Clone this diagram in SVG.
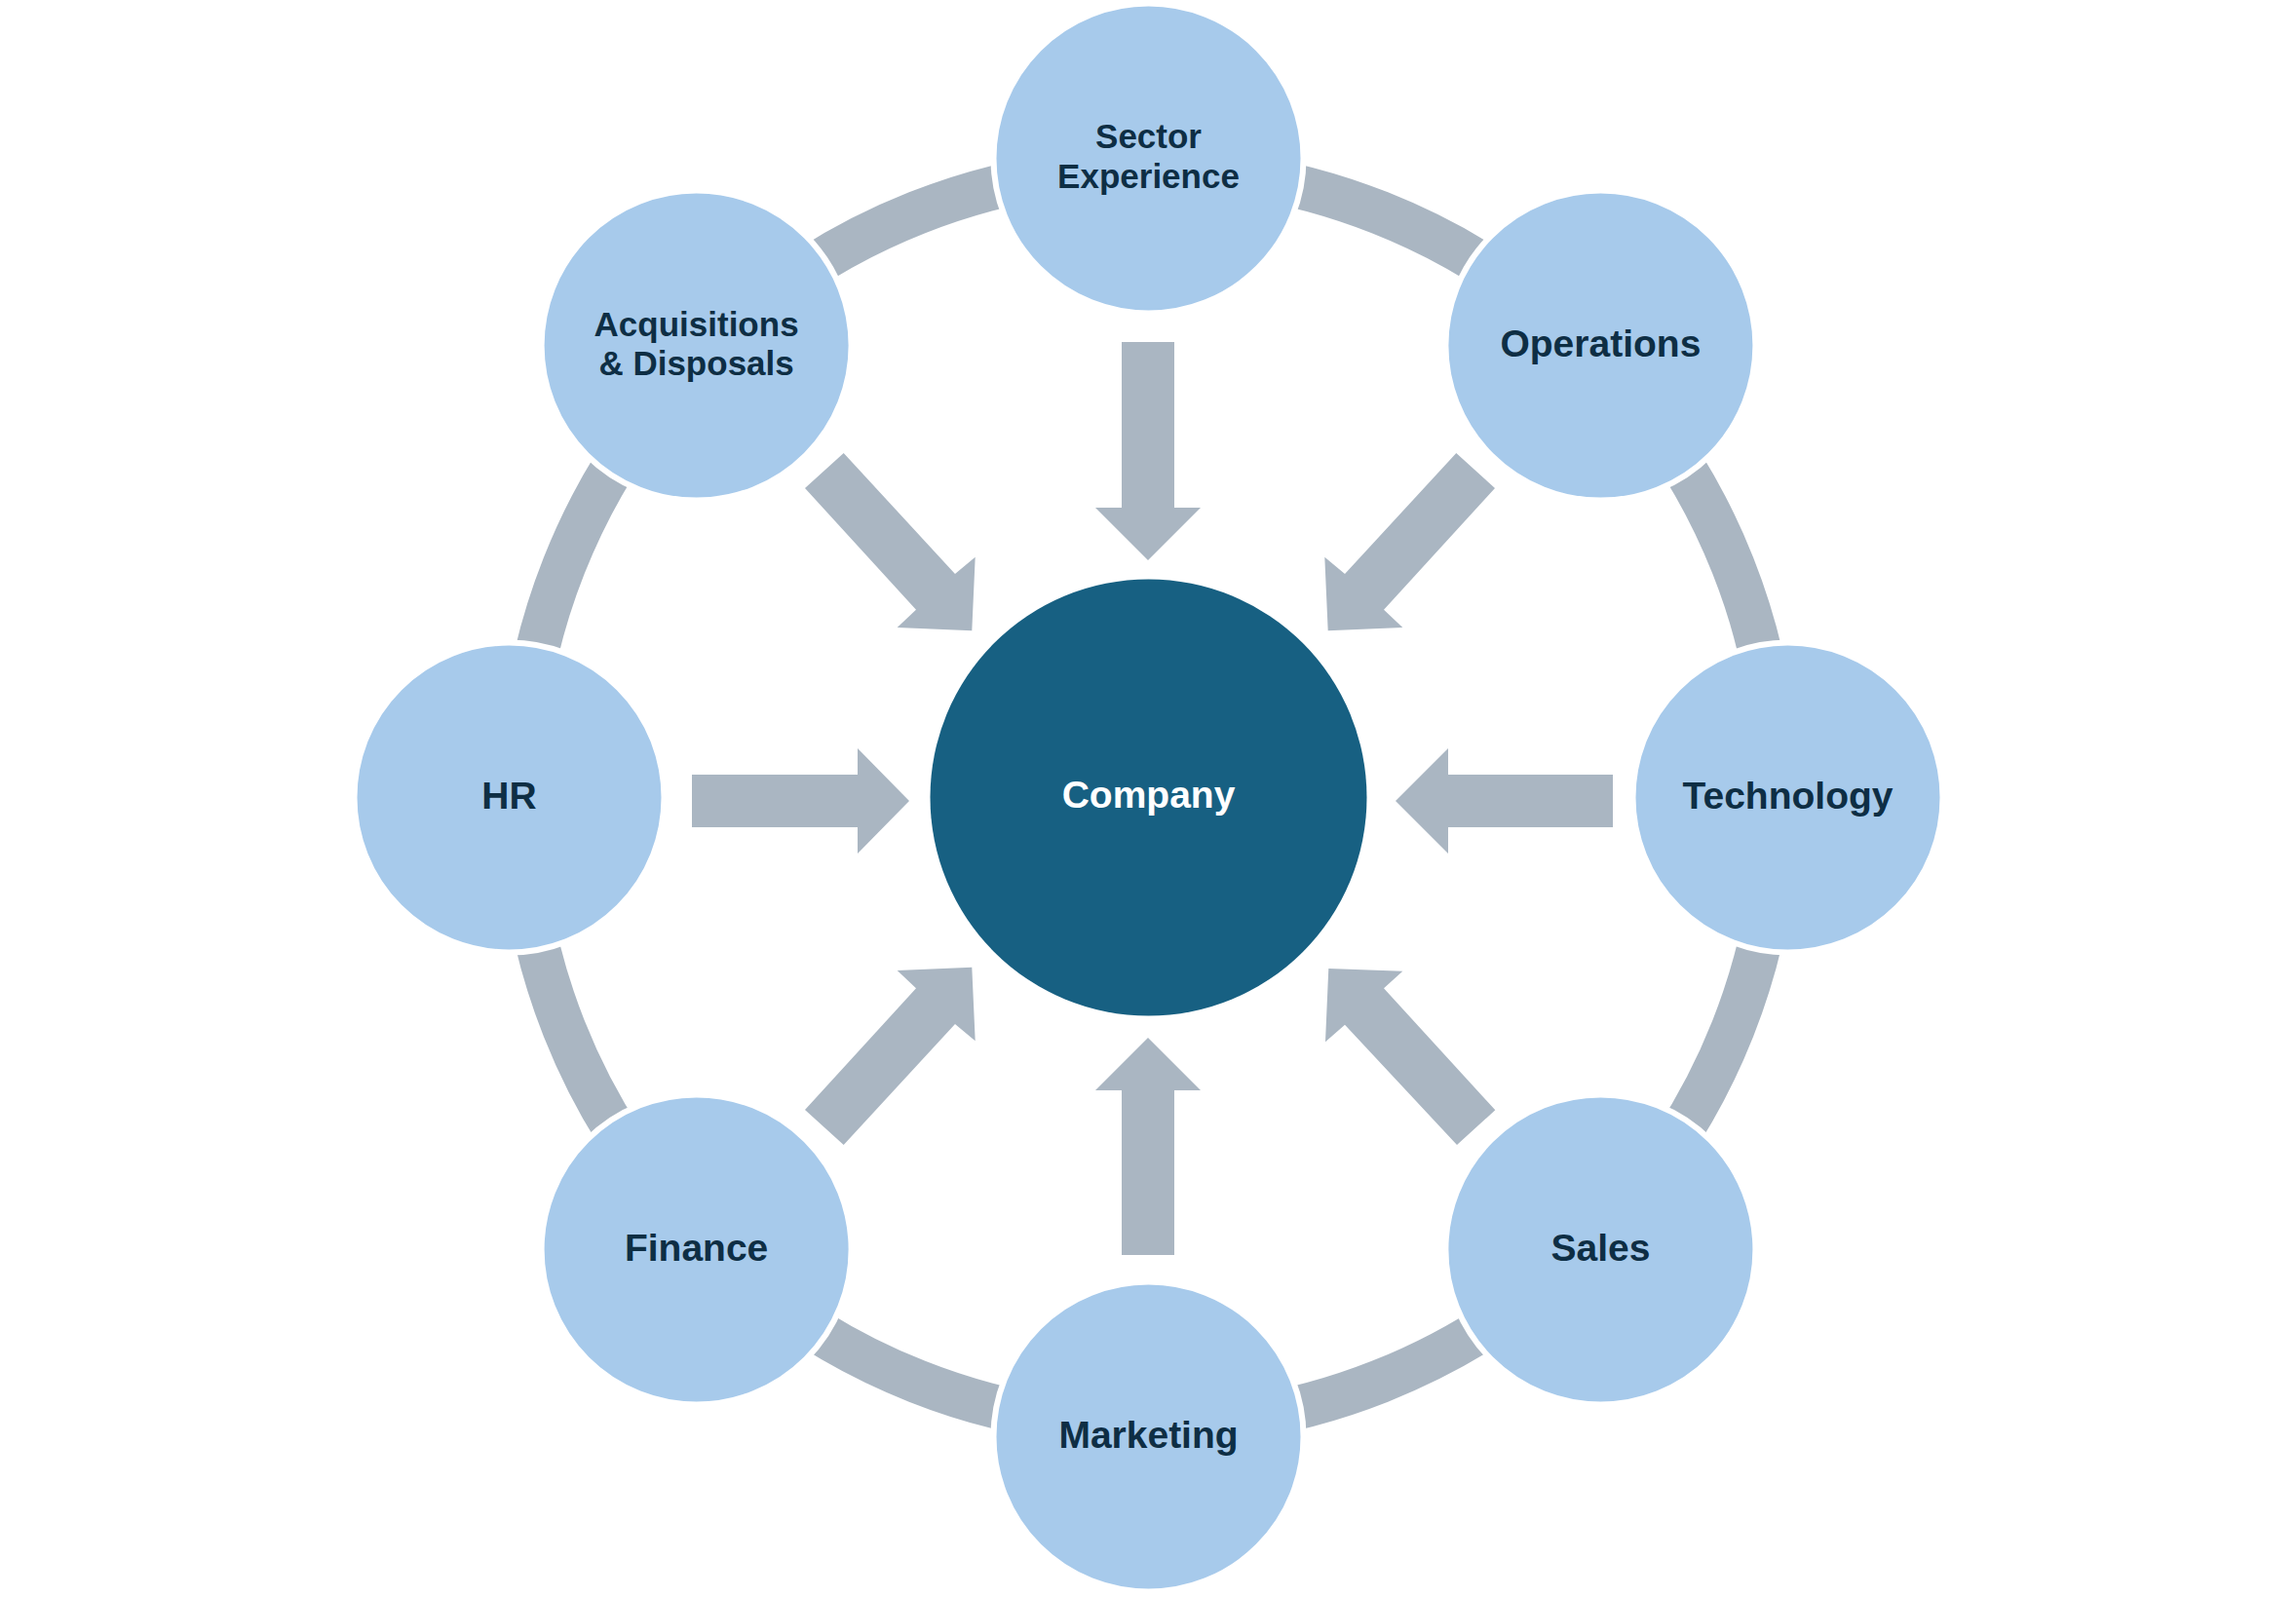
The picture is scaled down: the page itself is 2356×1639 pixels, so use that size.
<svg xmlns="http://www.w3.org/2000/svg" width="2356" height="1639" viewBox="0 0 2356 1639">
<style>
.bg{fill:#FFFFFF}
.ring{fill:none;stroke:#AAB6C2;stroke-width:45}
.arrow{fill:#AAB6C2}
.node{fill:#A7CAEB;stroke:#FFFFFF;stroke-width:6}
.hub{fill:#176082}
.lbl{font-family:"Liberation Sans",Arial,sans-serif;font-weight:bold;fill:#0E2E44;text-anchor:middle}
.l1{font-size:39px}
.l2{font-size:35px}
.hubl{font-family:"Liberation Sans",Arial,sans-serif;font-weight:bold;font-size:39px;fill:#FFFFFF;text-anchor:middle}
</style>
<rect class="bg" x="0" y="0" width="2356" height="1639"/>
<g id="connectors">
<circle class="ring" cx="1178.5" cy="818" r="645"/>
<polygon class="arrow" points="1151,351 1205,351 1205,521 1232,521 1178,575 1124,521 1151,521"/>
<polygon class="arrow" points="1151,1288 1205,1288 1205,1119 1232,1119 1178,1065 1124,1119 1151,1119"/>
<polygon class="arrow" points="710,795 880,795 880,768 933,822 880,876 880,849 710,849"/>
<polygon class="arrow" points="1655,795 1486,795 1486,768 1432,822 1486,876 1486,849 1655,849"/>
<polygon class="arrow" points="865.7,465 980,589 1000.7,571.7 997.3,647.3 920.7,644 940,625.7 826,501"/>
<polygon class="arrow" points="1494.3,465 1380,589 1359.3,571.7 1362.7,647.3 1439.3,644 1420,625.7 1534,501"/>
<polygon class="arrow" points="865.7,1175 980,1051 1000.7,1068.3 997.3,992.7 920.7,996 940,1014.3 826,1139"/>
<polygon class="arrow" points="1495,1175 1380,1051.7 1360,1069.3 1363.3,994 1439.3,996.7 1420,1014.3 1534.3,1139.3"/>
</g>
<g id="company">
<circle class="hub" cx="1178.5" cy="818.5" r="224"/>
<text class="hubl" x="1178.5" y="829">Company</text>
</g>
<g id="sector-experience">
<circle class="node" cx="1178.5" cy="162.5" r="159"/>
<text class="lbl l2" x="1178.5" y="152">Sector</text>
<text class="lbl l2" x="1178.5" y="192.5">Experience</text>
</g>
<g id="operations">
<circle class="node" cx="1642.4" cy="354.6" r="159"/>
<text class="lbl l1" x="1642.4" y="365.5">Operations</text>
</g>
<g id="technology">
<circle class="node" cx="1834.5" cy="818.5" r="159"/>
<text class="lbl l1" x="1834.5" y="829.5">Technology</text>
</g>
<g id="sales">
<circle class="node" cx="1642.4" cy="1282.4" r="159"/>
<text class="lbl l1" x="1642.4" y="1293.5">Sales</text>
</g>
<g id="marketing">
<circle class="node" cx="1178.5" cy="1474.5" r="159"/>
<text class="lbl l1" x="1178.5" y="1485.5">Marketing</text>
</g>
<g id="finance">
<circle class="node" cx="714.6" cy="1282.4" r="159"/>
<text class="lbl l1" x="714.6" y="1293.5">Finance</text>
</g>
<g id="hr">
<circle class="node" cx="522.5" cy="818.5" r="159"/>
<text class="lbl l1" x="522.5" y="829.5">HR</text>
</g>
<g id="acquisitions-disposals">
<circle class="node" cx="714.6" cy="354.6" r="159"/>
<text class="lbl l2" x="714.6" y="344.5">Acquisitions</text>
<text class="lbl l2" x="714.6" y="385">&amp; Disposals</text>
</g>
</svg>
